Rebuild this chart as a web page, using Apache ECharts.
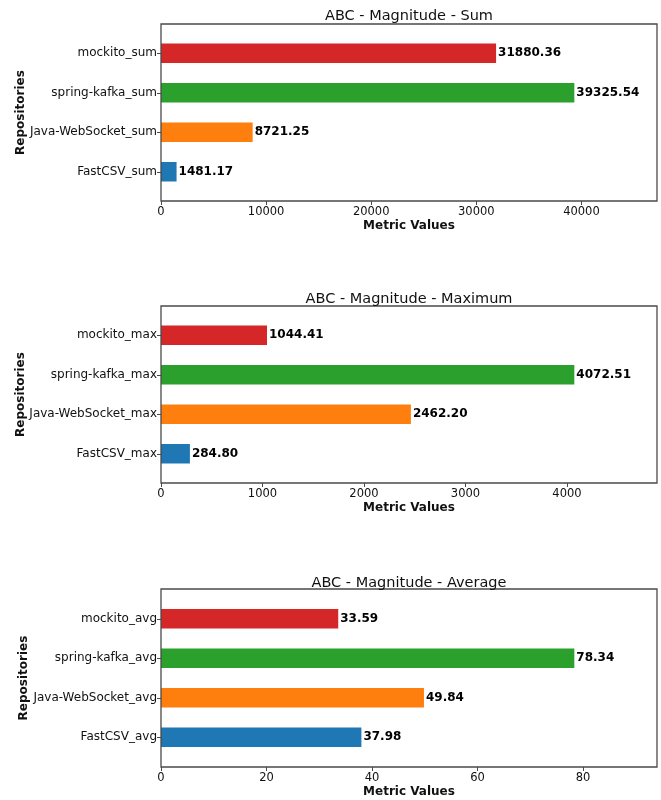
<!DOCTYPE html>
<html>
<head>
<meta charset="utf-8">
<script src="https://cdn.jsdelivr.net/npm/echarts@6/dist/echarts.min.js"></script>
<style>
  html, body { margin: 0; padding: 0; background: #fff; }
  #chart { width: 661px; height: 800px; }
</style>
</head>
<body>
<div id="chart"></div>
<script>
// Repositories, bottom to top
const repos = ['FastCSV', 'Java-WebSocket', 'spring-kafka', 'mockito'];
const barColors = ['#1f77b4', '#ff7f0e', '#2ca02c', '#d62728'];

const sumLabels = ['FastCSV_sum', 'Java-WebSocket_sum', 'spring-kafka_sum', 'mockito_sum'];
const sumValues = [1481.17, 8721.25, 39325.54, 31880.36];
const sumTicks = [0, 10000, 20000, 30000, 40000];

const maxLabels = ['FastCSV_max', 'Java-WebSocket_max', 'spring-kafka_max', 'mockito_max'];
const maxValues = [284.80, 2462.20, 4072.51, 1044.41];
const maxTicks = [0, 1000, 2000, 3000, 4000];

const avgLabels = ['FastCSV_avg', 'Java-WebSocket_avg', 'spring-kafka_avg', 'mockito_avg'];
const avgValues = [37.98, 49.84, 78.34, 33.59];
const avgTicks = [0, 20, 40, 60, 80];

const FONT = 'DejaVu Sans';
const INK = '#111';
const SPINE = '#4a4a4a';

const panels = [
  { title: 'ABC - Magnitude - Sum', labels: sumLabels, values: sumValues, ticks: sumTicks, top: 24, height: 177, titleTop: 4, yNameGap: 134 },
  { title: 'ABC - Magnitude - Maximum', labels: maxLabels, values: maxValues, ticks: maxTicks, top: 306, height: 177, titleTop: 287, yNameGap: 134 },
  { title: 'ABC - Magnitude - Average', labels: avgLabels, values: avgValues, ticks: avgTicks, top: 589, height: 178, titleTop: 571, yNameGap: 131 }
];

const LEFT = 161, WIDTH = 496;
const BAND = 39.5;   // spacing between bar centres

const grid = [], xAxis = [], yAxis = [], series = [], title = [];

panels.forEach((p, k) => {
  const xmax = Math.max(...p.values) * 1.2;
  const inner = BAND * p.labels.length;
  const innerTop = p.top + (p.height - inner) / 2;

  // frame grid: box + visible x axis
  grid.push({ left: LEFT, width: WIDTH, top: p.top, height: p.height, show: true,
              borderColor: SPINE, borderWidth: 1.3, backgroundColor: 'transparent', z: 3 });
  // data grid: category bands
  grid.push({ left: LEFT, width: WIDTH, top: innerTop, height: inner, show: false });

  xAxis.push({
    gridIndex: 2 * k, type: 'value', min: 0, max: xmax,
    axisLine: { show: false },
    splitLine: { show: false },
    axisTick: { show: true, length: 4, customValues: p.ticks, lineStyle: { color: SPINE, width: 1 } },
    axisLabel: { customValues: p.ticks, margin: 5, fontFamily: FONT, fontSize: 11.5, color: INK,
                 formatter: (v) => String(v) },
    name: 'Metric Values', nameLocation: 'middle', nameGap: 19, nameMoveOverlap: false,
    nameTextStyle: { fontFamily: FONT, fontSize: 12, fontWeight: 'bold', color: INK, verticalAlign: 'top' }
  });
  xAxis.push({ gridIndex: 2 * k + 1, type: 'value', min: 0, max: xmax, show: false });

  yAxis.push({ gridIndex: 2 * k, type: 'value', show: false, min: 0, max: 1 });
  yAxis.push({
    gridIndex: 2 * k + 1, type: 'category', data: p.labels, boundaryGap: true,
    axisLine: { show: false },
    axisTick: { show: true, alignWithLabel: true, length: 4, lineStyle: { color: SPINE, width: 1 } },
    axisLabel: { margin: 4, fontFamily: FONT, fontSize: 12, color: INK },
    splitLine: { show: false },
    name: 'Repositories', nameLocation: 'middle', nameGap: p.yNameGap, nameRotate: 90,
    nameMoveOverlap: false,
    nameTextStyle: { fontFamily: FONT, fontSize: 12, fontWeight: 'bold', color: INK }
  });

  series.push({
    type: 'bar', xAxisIndex: 2 * k + 1, yAxisIndex: 2 * k + 1,
    barWidth: 19.5,
    data: p.values.map((v, i) => ({ value: v, itemStyle: { color: barColors[i] } })),
    label: {
      show: true, position: 'right', distance: 2,
      formatter: (d) => d.value.toFixed(2),
      fontFamily: FONT, fontSize: 12, fontWeight: 'bold', color: '#000'
    },
    silent: true, animation: false
  });

  title.push({
    text: p.title, left: LEFT + WIDTH / 2 - 5, top: p.titleTop, textAlign: 'center',
    textStyle: { fontFamily: FONT, fontSize: 14.5, fontWeight: 'normal', color: INK }
  });
});

const chart = echarts.init(document.getElementById('chart'), null, { renderer: 'canvas' });
chart.setOption({ animation: false, backgroundColor: '#fff', title, grid, xAxis, yAxis, series });
</script>
</body>
</html>
